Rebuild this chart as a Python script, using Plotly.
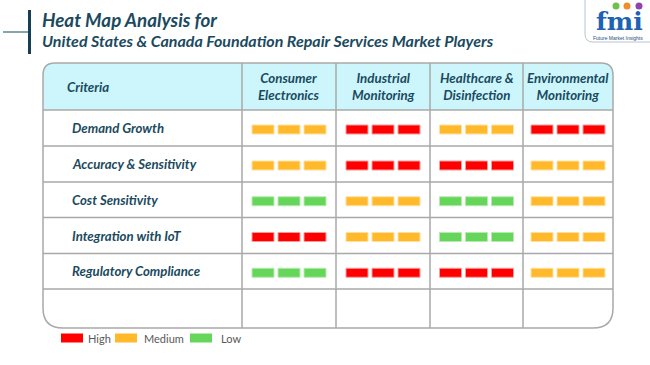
import plotly.graph_objects as go

# ---------------- data ----------------
criteria = ["Demand Growth", "Accuracy & Sensitivity", "Cost Sensitivity",
            "Integration with IoT", "Regulatory Compliance"]
segments = ["Consumer<br>Electronics", "Industrial<br>Monitoring",
            "Healthcare &<br>Disinfection", "Environmental<br>Monitoring"]
levels = [
    ["Medium", "High", "Medium", "High"],
    ["Medium", "High", "High", "Medium"],
    ["Low", "Medium", "Low", "Medium"],
    ["High", "Medium", "Low", "Medium"],
    ["Low", "High", "High", "Medium"],
]
legend_labels = ["High", "Medium", "Low"]

# ---------------- styles ----------------
fill_col = {"High": "#FF0000", "Medium": "#FFB92B", "Low": "#66D65A"}
edge_col = {"High": "#FF9A9A", "Medium": "#FFE0A0", "Low": "#B5EBAE"}
TXT = "#1B4A5E"
GRID = "#A9A9A9"
FONT = "Lato"

W, H = 650, 365
L, R, T, B = 43, 613, 63, 328
HDR_B = 110
col_edges = [L, 242, 336, 430, 523, R]
row_edges = [HDR_B, 146, 182, 217.5, 253.5, 289, B]
rt, rb = 12, 20

fig = go.Figure()
shapes = []
ann = []

# header fill
shapes.append(dict(type="path", xref="x", yref="y", layer="below",
                   path=f"M {L},{T+rt} Q {L},{T} {L+rt},{T} L {R-rt},{T} Q {R},{T} {R},{T+rt} "
                        f"L {R},{HDR_B} L {L},{HDR_B} Z",
                   fillcolor="#CCF6FC", line=dict(width=0)))
# inner lines
for y in row_edges[:-1]:
    shapes.append(dict(type="line", xref="x", yref="y", x0=L, x1=R, y0=y, y1=y,
                       line=dict(color=GRID, width=1.5)))
for x in col_edges[1:-1]:
    shapes.append(dict(type="line", xref="x", yref="y", x0=x, x1=x, y0=T, y1=B,
                       line=dict(color=GRID, width=1.5)))
# outline
shapes.append(dict(type="path", xref="x", yref="y",
                   path=f"M {L+rt},{T} L {R-rt},{T} Q {R},{T} {R},{T+rt} L {R},{B-rb} "
                        f"Q {R},{B} {R-rb},{B} L {L+rb},{B} Q {L},{B} {L},{B-rb} "
                        f"L {L},{T+rt} Q {L},{T} {L+rt},{T} Z",
                   line=dict(color=GRID, width=1.5)))

# header texts
ann.append(dict(x=65, y=(T + HDR_B) / 2, text="<b><i>Criteria</i></b>", xanchor="left",
                yanchor="middle", showarrow=False, font=dict(size=13.3, color=TXT, family=FONT)))
for j, seg in enumerate(segments):
    cx = (col_edges[j + 1] + col_edges[j + 2]) / 2
    ann.append(dict(x=cx, y=(T + HDR_B) / 2, text=f"<b><i>{seg}</i></b>", xanchor="center",
                    yanchor="middle", showarrow=False,
                    font=dict(size=13.3, color=TXT, family=FONT)))

# rows
BW, BH, GAP = 22, 9, 4
for i, crit in enumerate(criteria):
    cy = (row_edges[i] + row_edges[i + 1]) / 2
    ann.append(dict(x=70, y=cy, text=f"<b><i>{crit}</i></b>", xanchor="left", yanchor="middle",
                    showarrow=False, font=dict(size=13.2, color=TXT, family=FONT)))
    for j, lev in enumerate(levels[i]):
        cx = (col_edges[j + 1] + col_edges[j + 2]) / 2
        start = cx - (3 * BW + 2 * GAP) / 2
        for k in range(3):
            x0 = start + k * (BW + GAP)
            shapes.append(dict(type="rect", xref="x", yref="y", x0=x0, x1=x0 + BW,
                               y0=cy + 1.5 - BH / 2, y1=cy + 1.5 + BH / 2,
                               fillcolor=fill_col[lev], line=dict(color=edge_col[lev], width=1)))

# legend
lx = [61, 115, 190]
for x0, lab in zip(lx, legend_labels):
    shapes.append(dict(type="rect", xref="x", yref="y", x0=x0, x1=x0 + 22, y0=333.5, y1=342.5,
                       fillcolor=fill_col[lab], line=dict(width=0)))
    ann.append(dict(x=x0 + 25 + (4 if lab == "Low" else 0) + (2 if lab == "Medium" else 0),
                    y=338, text=lab, xanchor="left", yanchor="middle", showarrow=False,
                    font=dict(size=11, color="#595959", family=FONT)))

# title decorations
shapes.append(dict(type="line", xref="x", yref="y", x0=3, x1=29, y0=32, y1=32,
                   line=dict(color="#5E8696", width=1.5)))
shapes.append(dict(type="line", xref="x", yref="y", x0=29.5, x1=29.5, y0=10, y1=54,
                   line=dict(color="#163F55", width=3)))
ann.append(dict(x=40, y=19, text="<b><i>Heat Map Analysis for</i></b>", xanchor="left",
                yanchor="middle", showarrow=False, font=dict(size=18.8, color=TXT, family=FONT)))
ann.append(dict(x=40, y=40, text="<b><i>United States & Canada Foundation Repair Services Market Players</i></b>",
                xanchor="left", yanchor="middle", showarrow=False,
                font=dict(size=16, color=TXT, family=FONT)))

# logo
shapes.append(dict(type="path", xref="x", yref="y",
                   path="M 585,0 L 585,34 Q 585,42 593,42 L 650,42",
                   line=dict(color="#B8C4CC", width=1)))
for cxl, colr in zip([616, 627, 639], ["#6CC24A", "#F28C28", "#8E44AD"]):
    shapes.append(dict(type="circle", xref="x", yref="y", x0=cxl - 3.5, x1=cxl + 3.5,
                       y0=2.5, y1=9.5, fillcolor=colr, line=dict(width=0)))
ann.append(dict(x=619, y=21.5, text="<b>fmi</b>", xanchor="center", yanchor="middle",
                showarrow=False, font=dict(size=25, color="#1E62B4", family="DejaVu Serif")))
ann.append(dict(x=618, y=37.5, text="Future Market Insights", xanchor="center", yanchor="middle",
                showarrow=False, font=dict(size=5, color="#1E4F7A", family="Liberation Sans")))

fig.update_layout(
    width=W, height=H, autosize=False,
    margin=dict(l=0, r=0, t=0, b=0),
    paper_bgcolor="white", plot_bgcolor="white",
    xaxis=dict(range=[0, W], visible=False, fixedrange=True),
    yaxis=dict(range=[H, 0], visible=False, fixedrange=True),
    shapes=shapes, annotations=ann, showlegend=False,
)
fig.write_html("out.html", config={"displayModeBar": False},
               post_script="document.body.style.margin='0px';document.body.style.padding='0px';")
